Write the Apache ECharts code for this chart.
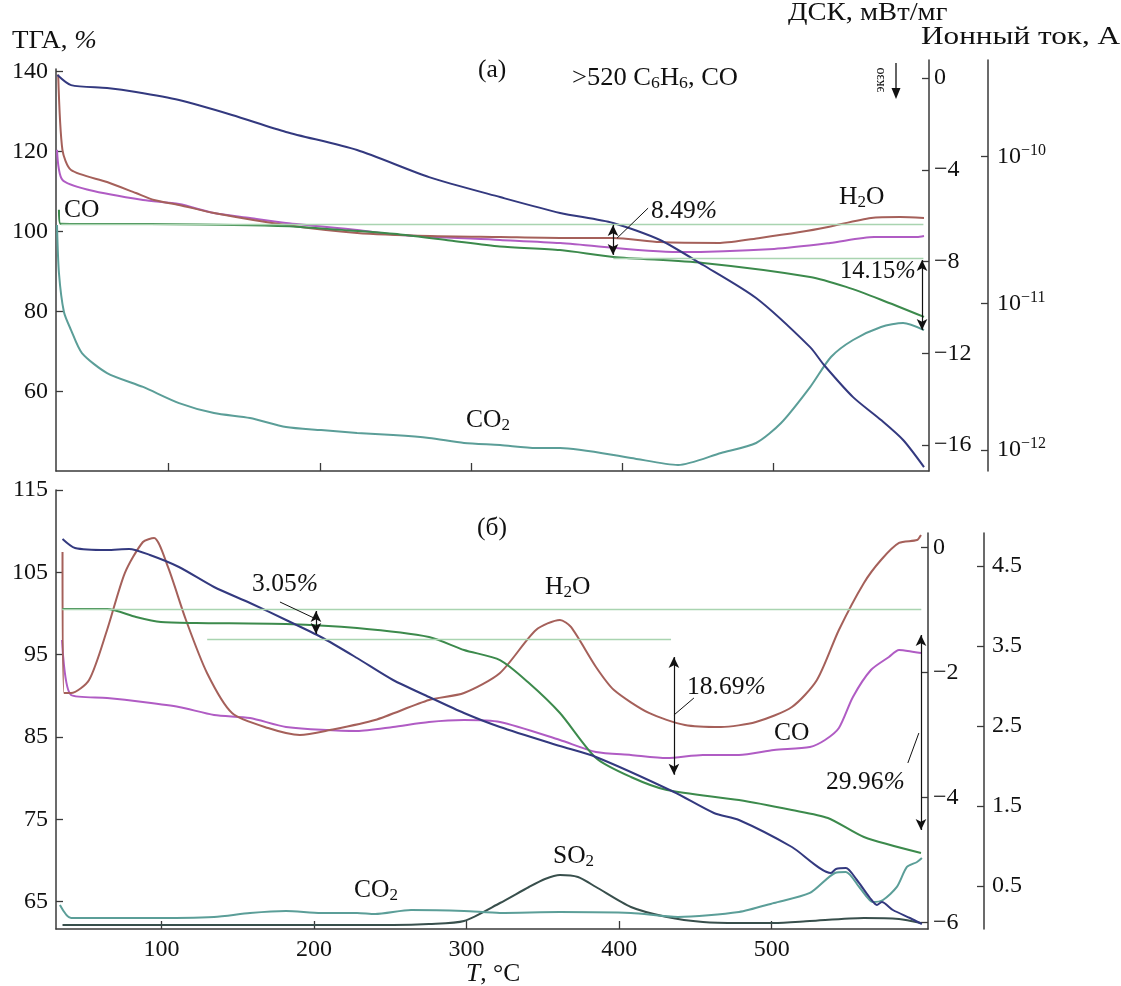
<!DOCTYPE html>
<html>
<head>
<meta charset="utf-8">
<script src="https://cdn.jsdelivr.net/npm/echarts@6/dist/echarts.min.js"></script>
<style>html,body{margin:0;padding:0;background:#fff}#c{width:1121px;height:986px}</style>
</head>
<body>
<div id="c"></div>
<script>
// ---------- DATA (temperature °C, value) ----------
// Panel (a)
const topTga = [[27.5,105.5],[28.5,102.0],[87.7,101.9],[153.8,101.6],[186.9,101.2],[219.9,100.3],[253,99.3],[286,97.8],[319,96.3],[358.8,95.4],[394.2,93.7],[453.3,92.2],[524.1,88.7],[547.9,86.2],[571,83.0],[599.4,78.7]];
const topDsc = [[26.5,0.13],[35.5,-0.31],[59.3,-0.44],[78.4,-0.61],[106.9,-0.96],[141.9,-1.61],[177.6,-2.35],[224.6,-3.14],[272.2,-4.32],[319.1,-5.19],[358.8,-5.88],[393.8,-6.32],[424.9,-7.06],[453.3,-8.15],[488.4,-9.59],[524.1,-11.73],[533.3,-12.51],[552.5,-13.91],[571.0,-14.91],[585.6,-15.78],[599.4,-16.96]];
// ion current, log10(A)
const topH2O = [[27,-9.44],[29.8,-9.954],[35.5,-10.091],[59.3,-10.173],[78.4,-10.248],[90.3,-10.295],[106.9,-10.329],[130,-10.384],[177.6,-10.466],[224.6,-10.52],[272.9,-10.541],[319.1,-10.548],[358.8,-10.554],[393.8,-10.554],[424.9,-10.582],[464.6,-10.588],[491,-10.554],[517.4,-10.514],[536,-10.479],[564.4,-10.418],[583.6,-10.411],[599.4,-10.418]];
const topCO = [[26.2,-9.954],[29.8,-10.159],[47.4,-10.227],[83.1,-10.295],[106.9,-10.323],[130,-10.384],[153.8,-10.418],[177.6,-10.452],[224.6,-10.5],[253,-10.534],[319.1,-10.568],[358.8,-10.589],[436.8,-10.65],[500.3,-10.629],[537.3,-10.589],[566.4,-10.548],[594.8,-10.548],[599.4,-10.541]];
const topCO2 = [[26.2,-10.466],[27.5,-10.793],[30.8,-11.059],[35.5,-11.182],[42.7,-11.339],[59.3,-11.475],[83.1,-11.57],[106.9,-11.68],[130,-11.748],[153.8,-11.782],[177.6,-11.843],[200.8,-11.864],[224.6,-11.884],[248.4,-11.898],[272.2,-11.918],[295.3,-11.952],[319.1,-11.966],[342.9,-11.986],[358.8,-11.986],[405.7,-12.054],[436.8,-12.102],[465.2,-12.02],[488.4,-11.952],[504.9,-11.816],[524.1,-11.571],[537.9,-11.366],[552.5,-11.25],[571,-11.161],[585.6,-11.134],[599.4,-11.182]];
// Panel (б)
const botTga = [[35.2,100.54],[64.4,100.54],[83.4,99.57],[99.7,98.96],[122.7,98.84],[181.7,98.72],[228.2,98.23],[275.4,97.14],[298.3,95.56],[321.9,94.34],[340.9,91.55],[361.2,87.9],[384.8,82.44],[407.7,80.13],[431.3,78.55],[478.5,77.33],[513.2,76.12],[536.8,75.15],[560.4,72.84],[597.8,70.9]];
const botDsc = [[35.2,0.136],[43.4,-0.008],[64.4,-0.04],[78.8,-0.024],[92.5,-0.12],[111.5,-0.312],[134.5,-0.632],[158.1,-0.888],[181.7,-1.16],[204.6,-1.432],[228.2,-1.768],[251.8,-2.12],[275.4,-2.392],[298.3,-2.648],[321.9,-2.872],[361.2,-3.176],[384.8,-3.352],[435.9,-3.912],[462.1,-4.248],[478.5,-4.36],[513.2,-4.792],[538.8,-5.208],[542.1,-5.144],[548.6,-5.128],[555.8,-5.32],[564.4,-5.608],[568.9,-5.72],[572.2,-5.672],[579.4,-5.8],[590.6,-5.928],[598.4,-6.024]];
const botH2O = [[35.2,4.675],[36.2,2.913],[40.8,2.913],[52.6,3.075],[64.4,3.7],[76.1,4.413],[87.9,4.8],[95.2,4.85],[104.3,4.488],[116.1,3.825],[129.9,3.163],[146.3,2.663],[169.9,2.475],[190.8,2.388],[210.5,2.45],[240,2.575],[275.4,2.825],[298.3,2.913],[321.9,3.163],[345.5,3.7],[361.2,3.825],[368.4,3.738],[384.8,3.238],[396.6,2.95],[419.5,2.663],[443.1,2.513],[466.7,2.488],[489.6,2.55],[513.2,2.738],[529.6,3.075],[544,3.7],[560.4,4.288],[571.6,4.575],[583.4,4.788],[595.2,4.825],[597.8,4.888]];
const botCO = [[34.9,3.575],[40.8,2.888],[64.4,2.85],[87.9,2.8],[111.5,2.738],[134.5,2.638],[158.1,2.6],[181.7,2.488],[228.2,2.438],[251.8,2.488],[275.4,2.55],[298.3,2.575],[321.9,2.55],[361.2,2.325],[384.8,2.175],[407.7,2.138],[431.3,2.1],[454.9,2.138],[478.5,2.138],[501.4,2.2],[525,2.238],[534.9,2.325],[544,2.475],[553.2,2.863],[565,3.2],[576.8,3.363],[583.4,3.45],[593.2,3.425],[597.8,3.413]];
const botCO2 = [[33.5,0.263],[40.8,0.1],[87.9,0.1],[134.5,0.113],[158.1,0.163],[181.7,0.188],[204.6,0.163],[228.2,0.163],[240,0.15],[263.6,0.2],[298.3,0.188],[321.9,0.163],[361.2,0.175],[407.7,0.163],[438.5,0.113],[478.5,0.175],[501.4,0.288],[525,0.413],[541.4,0.663],[548.6,0.675],[557.8,0.475],[566.3,0.3],[572.9,0.325],[582,0.488],[588.6,0.738],[595.2,0.8],[598.4,0.85]];
const botSO2 = [[35.2,0.0125],[251.8,0.0125],[275.4,0.025],[298.3,0.0625],[321.9,0.2875],[340.9,0.4875],[351.4,0.5875],[361.2,0.6375],[373,0.6125],[384.8,0.4875],[407.7,0.2375],[431.3,0.1125],[454.9,0.05],[478.5,0.0375],[501.4,0.0375],[525,0.0625],[560.4,0.1],[583.4,0.0875],[597.8,0.0375]];
// tick values
const xTicks = [100,200,300,400,500];
const topTgaTicks = [60,80,100,120,140];
const topDscTicks = [0,-4,-8,-12,-16];
const topIonTicks = [-12,-11,-10];
const botTgaTicks = [65,75,85,95,105,115];
const botDscTicks = [0,-2,-4,-6];
const botIonTicks = [0.5,1.5,2.5,3.5,4.5];

// ---------- STYLE ----------
const FONT = '"Liberation Serif","DejaVu Serif",serif';
const FS = 24;
const AFS = 25.5;
const AX = '#3a3a3a';
const C = {dsc:'#33397f', tga:'#3c8a4c', h2o:'#a5605a', co:'#b05cc4', co2:'#5b9e98', so2:'#384f4c', ref:'#a9d4b0'};
const minus = v => (v < 0 ? '\u2212' + Math.abs(v) : String(v));

function yAx(o) {
  return Object.assign({
    type: 'value', splitLine: {show: false},
    axisLine: {show: true, onZero: false, lineStyle: {color: AX, width: 1.5}},
    axisTick: {show: true, inside: true, length: 7, lineStyle: {color: AX, width: 1.3}, customValues: o.ticks},
    axisLabel: {show: true, color: '#111', fontFamily: FONT, fontSize: FS, margin: o.margin || 8, customValues: o.ticks, formatter: o.fmt || (v => minus(v)), rich: o.rich}
  }, o.extra);
}
function xAx(o) {
  return Object.assign({
    type: 'value', splitLine: {show: false},
    axisLine: {show: o.show, onZero: false, lineStyle: {color: AX, width: 1.5}},
    axisTick: {show: o.show, inside: true, length: 8, lineStyle: {color: AX, width: 1.3}, customValues: xTicks},
    axisLabel: {show: !!o.labels, color: '#111', fontFamily: FONT, fontSize: FS, margin: 9, customValues: xTicks}
  }, o.extra);
}
const supRich = {b: {fontFamily: FONT, fontSize: FS, lineHeight: 28, color: '#111'}, s: {fontFamily: FONT, fontSize: 16, lineHeight: 10, verticalAlign: 'top', color: '#111'}};

function line(name, data, color, xi, yi, extra) {
  return Object.assign({type: 'line', name, data, xAxisIndex: xi, yAxisIndex: yi, showSymbol: false, smooth: 0.25,
    lineStyle: {color, width: 2}, itemStyle: {color}, silent: true}, extra || {});
}
function ml(items) {
  return {silent: true, symbol: ['none', 'none'], symbolSize: [8, 11], label: {show: false}, animation: false, data: items};
}
const ref = (x0, x1, y) => [{coord: [x0, y], lineStyle: {color: C.ref, width: 1.3, type: 'solid'}}, {coord: [x1, y]}];
const arr = (x, y0, y1) => [{coord: [x, y0], symbol: 'arrow', lineStyle: {color: '#111', width: 1.2, type: 'solid'}}, {coord: [x, y1], symbol: 'arrow'}];
const lead = (x0, y0, x1, y1) => [{coord: [x0, y0], lineStyle: {color: '#111', width: 1, type: 'solid'}}, {coord: [x1, y1]}];

function richSet(fs) {
  return {a: {fontFamily: FONT, fontSize: fs, fill: '#111', lineHeight: 28}, s: {fontFamily: FONT, fontSize: Math.round(fs * 0.68), fill: '#111', lineHeight: 12, verticalAlign: 'bottom'}, i: {fontFamily: FONT, fontSize: fs, fontStyle: 'italic', fill: '#111', lineHeight: 28}};
}
function txt(x, y, text, fs, sx) {
  fs = fs || AFS;
  return {type: 'text', x, y, scaleX: sx || 1, silent: true, style: {text, rich: richSet(fs), align: 'left', verticalAlign: 'middle', font: fs + 'px ' + FONT, fill: '#111'}};
}

const chart = echarts.init(document.getElementById('c'), null, {renderer: 'canvas'});
chart.setOption({
  animation: false,
  backgroundColor: '#fff',
  grid: [
    {left: 56, width: 873, top: 69, height: 402},
    {left: 56, width: 873, top: 60, height: 411},
    {left: 56, width: 872, top: 490, height: 439},
    {left: 56, width: 872, top: 533, height: 396}
  ],
  xAxis: [
    xAx({show: true, extra: {gridIndex: 0, min: 25.55, max: 602.7}}),
    xAx({show: false, extra: {gridIndex: 1, min: 25.55, max: 602.7, show: false}}),
    xAx({show: true, labels: true, extra: {gridIndex: 2, min: 30.93, max: 602.4}}),
    xAx({show: false, extra: {gridIndex: 3, min: 30.93, max: 602.4, show: false}})
  ],
  yAxis: [
    yAx({ticks: topTgaTicks, extra: {gridIndex: 0, position: 'left', min: 40.175, max: 140.675}}),
    yAx({ticks: topDscTicks, margin: 5, extra: {gridIndex: 1, position: 'right', min: -17.13, max: 0.785}}),
    yAx({ticks: topIonTicks, margin: 9, rich: supRich, fmt: v => '{b|10}{s|' + minus(v) + '}', extra: {gridIndex: 1, position: 'right', offset: 59, min: -12.143, max: -9.341}}),
    yAx({ticks: botTgaTicks, extra: {gridIndex: 2, position: 'left', min: 61.66, max: 115}}),
    yAx({ticks: botDscTicks, margin: 5, extra: {gridIndex: 3, position: 'right', min: -6.104, max: 0.232}}),
    yAx({ticks: botIonTicks, margin: 8, fmt: v => v.toFixed(1), extra: {gridIndex: 3, position: 'right', offset: 56, min: -0.0375, max: 4.9125}})
  ],
  series: [
    // panel (a)
    line('CO2 a', topCO2, C.co2, 1, 2),
    line('CO a', topCO, C.co, 1, 2),
    line('H2O a', topH2O, C.h2o, 1, 2),
    line('TGA a', topTga, C.tga, 0, 0, {markLine: ml([
      ref(29, 599, 101.8), ref(394, 599, 93.3),
      arr(393.8, 101.7, 94.2), lead(396.5, 98.4, 417, 105.9),
      arr(598.1, 92.9, 75.4)
    ])}),
    line('DSC a', topDsc, C.dsc, 1, 1),
    // panel (б)
    line('SO2 b', botSO2, C.so2, 3, 5),
    line('CO2 b', botCO2, C.co2, 3, 5),
    line('CO b', botCO, C.co, 3, 5),
    line('H2O b', botH2O, C.h2o, 3, 5),
    line('TGA b', botTga, C.tga, 2, 3, {markLine: ml([
      ref(35, 598, 100.5), ref(130, 434, 96.9),
      arr(201.3, 100.3, 97.5), lead(177.7, 101.39, 201.3, 99.33),
      arr(435.9, 94.7, 80.4), lead(435.9, 87.66, 449, 89.73),
      arr(597.8, 97.38, 73.69), lead(589.2, 81.83, 596.4, 85.47)
    ])}),
    line('DSC b', botDsc, C.dsc, 3, 4)
  ],
  graphic: [
    txt(12, 41, '{a|ТГА, }{i|%}', 26, 1.04),
    txt(788, 13, '{a|ДСК, мВт/мг}', 26, 1.1),
    txt(921, 37, '{a|Ионный ток, А}', 26, 1.2),
    txt(478, 70, '{a|(а)}'),
    txt(572, 78, '{a|>520 C}{s|6}{a|H}{s|6}{a|, CO}', 25.5, 1.04),
    {type: 'text', x: 880, y: 80, rotation: Math.PI / 2, silent: true, style: {text: 'экзо', font: '14px ' + FONT, fill: '#111', align: 'center', verticalAlign: 'middle'}},
    {type: 'line', silent: true, shape: {x1: 896, y1: 63, x2: 896, y2: 92}, style: {stroke: '#111', lineWidth: 1.3}},
    {type: 'polygon', silent: true, shape: {points: [[891.5, 88], [900.5, 88], [896, 99]]}, style: {fill: '#111'}},
    txt(64, 210, '{a|CO}'),
    txt(839, 197, '{a|H}{s|2}{a|O}'),
    txt(651, 211, '{a|8.49}{i|%}'),
    txt(840, 272, '{a|14.15}{i|%}', 24.5),
    txt(466, 420, '{a|CO}{s|2}'),
    txt(477, 528, '{a|(б)}'),
    txt(252, 584, '{a|3.05}{i|%}'),
    txt(545, 587, '{a|H}{s|2}{a|O}'),
    txt(687, 687, '{a|18.69}{i|%}'),
    txt(774, 733, '{a|CO}'),
    txt(826, 782, '{a|29.96}{i|%}'),
    txt(553, 856, '{a|SO}{s|2}'),
    txt(354, 890, '{a|CO}{s|2}'),
    txt(466, 974, '{i|T}{a|, °C}')
  ]
});
</script>
</body>
</html>
